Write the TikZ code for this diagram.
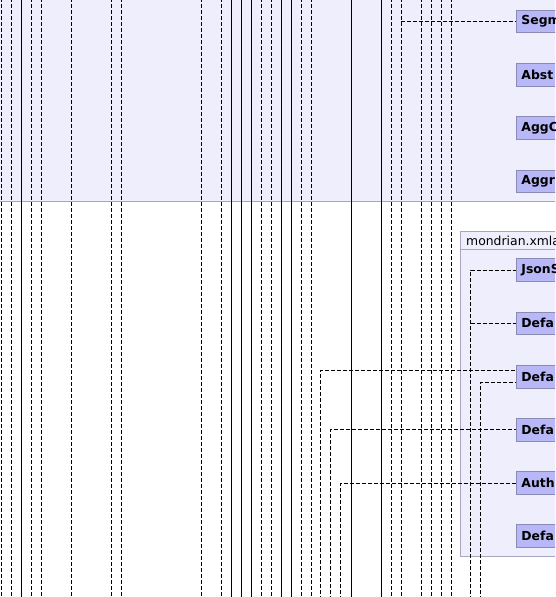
\documentclass[tikz,border=0pt]{standalone}
\usepackage{fontspec}
\setmainfont{DejaVu Sans}
\usepackage{xcolor}
\usepackage{tikz}
\usetikzlibrary{positioning,calc}
\definecolor{PkgFill}{HTML}{EEEEFC}
\definecolor{PkgLine}{HTML}{A6A6BE}
\definecolor{ClsFill}{HTML}{B8B8F8}
\definecolor{ClsLine}{HTML}{8A8AB4}
\tikzset{
  pkgarea/.style={fill=PkgFill,draw=PkgLine,line width=0.9pt},
  clsbox/.style={
    rectangle,
    draw=ClsLine,
    fill=ClsFill,
    line width=0.9pt,
    anchor=west,
    align=left,
    text width=60pt,
    inner xsep=5.5pt,
    minimum height=22.6pt,
    font=\fontsize{12.4}{14}\selectfont\bfseries
  },
  pkgname/.style={anchor=west,inner sep=0pt,font=\fontsize{12.4}{14}\selectfont},
  deplink/.style={draw=black,line width=0.9pt,dash pattern=on 4pt off 2pt},
  uselink/.style={draw=black,line width=0.9pt},
}

\begin{document}
\begin{tikzpicture}[x=1pt,y=-1pt]
  \useasboundingbox (0,0) rectangle (555,597);
  \clip (0,0) rectangle (555,597);

  % packages
  \fill[white] (0,0) rectangle (555,597);
  \draw[pkgarea] (-5,-5) rectangle (575,201.5);
  \draw[pkgarea] (460.5,231.5) rectangle (575,556);
  \draw[draw=PkgLine,line width=0.9pt] (460.5,249.5) -- (575,249.5);
  \node[pkgname] (xmlapkg) at (466,240.5) {mondrian.xmla};

  % lines from classes further up and left
  \foreach \x in {1,11,31,41,71,111,121,201,221,261,271,301,311,391,401,421,431,441,451}
    \draw[deplink] (\x,-2) -- (\x,600);
  \foreach \x in {21,231,241,251,281,291,351,381}
    \draw[uselink] (\x,-2) -- (\x,600);

  % classes
  \node[clsbox] (segm) at (515.5,21.5) {Segm};
  \node[clsbox] (abst) at (515.5,75) {Abst};
  \node[clsbox] (aggc) at (515.5,128) {AggC};
  \node[clsbox] (aggr) at (515.5,181.3) {Aggr};

  \node[clsbox] (jsons) at (515.5,270) {JsonS};
  \node[clsbox] (defa) at (515.5,323.3) {Defa};
  \node[clsbox] (defb) at (515.5,377) {Defa};
  \node[clsbox] (defc) at (515.5,429.7) {Defa};
  \node[clsbox] (auth) at (515.5,483) {Auth};
  \node[clsbox] (defd) at (515.5,535.8) {Defa};

  % free ends below the frame
  \coordinate (out321) at (320.7,600);
  \coordinate (out331) at (330.7,600);
  \coordinate (out341) at (340.7,600);
  \coordinate (out471) at (470.7,600);
  \coordinate (out481) at (480.7,600);

  \draw[deplink] (401,21.5) -- (segm.west);
  \draw[deplink] (out471) |- (jsons.west);
  \draw[deplink] (470.7,323.3) -- (defa.west);
  \draw[deplink] (out321) |- ([yshift=6.7pt]defb.west);
  \draw[deplink] (out481) |- ([yshift=-5.7pt]defb.west);
  \draw[deplink] (out331) |- (defc.west);
  \draw[deplink] (out341) |- (auth.west);
\end{tikzpicture}
\end{document}
